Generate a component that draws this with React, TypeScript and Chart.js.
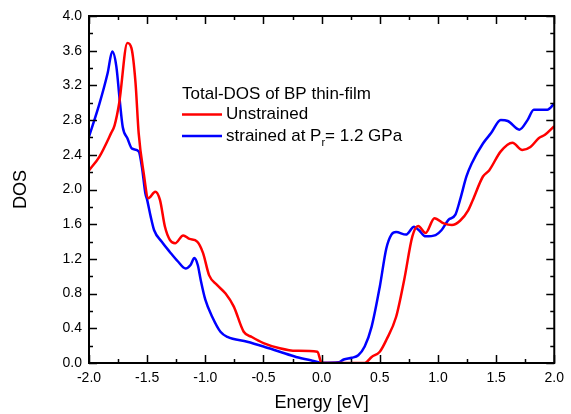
import React, { useEffect, useRef } from "react";
import { Chart, registerables } from "chart.js";

Chart.register(...registerables);

const redX = [-2.0, -1.91, -1.81, -1.78, -1.74, -1.67, -1.635, -1.6, -1.573, -1.53, -1.49, -1.43, -1.39, -1.347, -1.305, -1.26, -1.19, -1.136, -1.07, -1.02, -0.967, -0.9, -0.826, -0.755, -0.67, -0.6, -0.5, -0.36, -0.22, -0.036, 0.0, 0.37, 0.43, 0.5, 0.556, 0.64, 0.71, 0.78, 0.83, 0.894, 0.97, 1.05, 1.12, 1.19, 1.26, 1.3, 1.387, 1.44, 1.54, 1.64, 1.725, 1.795, 1.866, 1.92, 2.0];
const redY = [2.22, 2.38, 2.65, 2.74, 3.0, 3.69, 3.63, 3.23, 2.65, 2.19, 1.9, 1.975, 1.88, 1.57, 1.42, 1.38, 1.47, 1.43, 1.4, 1.27, 1.01, 0.9, 0.8, 0.65, 0.36, 0.3, 0.23, 0.17, 0.14, 0.13, 0.0, 0.0, 0.07, 0.13, 0.265, 0.53, 0.96, 1.46, 1.58, 1.5, 1.67, 1.61, 1.59, 1.64, 1.76, 1.88, 2.15, 2.22, 2.44, 2.54, 2.455, 2.49, 2.59, 2.63, 2.73];

const blueX = [-2.0, -1.91, -1.84, -1.8, -1.765, -1.736, -1.71, -1.67, -1.63, -1.573, -1.545, -1.516, -1.5, -1.47, -1.44, -1.376, -1.305, -1.235, -1.17, -1.127, -1.094, -1.065, -1.04, -1.0, -0.94, -0.87, -0.81, -0.64, -0.5, -0.36, -0.22, -0.08, 0.006, 0.146, 0.19, 0.26, 0.315, 0.37, 0.43, 0.5, 0.556, 0.6, 0.64, 0.725, 0.795, 0.837, 0.894, 0.98, 1.03, 1.09, 1.15, 1.19, 1.245, 1.29, 1.387, 1.457, 1.54, 1.6, 1.7, 1.77, 1.824, 1.94, 2.0];
const blueY = [2.61, 2.99, 3.34, 3.59, 3.42, 3.03, 2.72, 2.59, 2.47, 2.44, 2.26, 1.96, 1.88, 1.69, 1.53, 1.4, 1.28, 1.17, 1.09, 1.13, 1.21, 1.13, 0.96, 0.73, 0.53, 0.36, 0.3, 0.245, 0.19, 0.13, 0.07, 0.027, 0.003, 0.008, 0.04, 0.06, 0.09, 0.19, 0.42, 0.88, 1.32, 1.48, 1.51, 1.48, 1.57, 1.53, 1.46, 1.475, 1.53, 1.65, 1.71, 1.88, 2.15, 2.3, 2.53, 2.65, 2.8, 2.79, 2.69, 2.8, 2.92, 2.92, 2.99];

const legendTitle = "Total-DOS of BP thin-film";
const seriesNames = ["Unstrained", "strained at P", "r", "= 1.2 GPa"];
const xTitle = "Energy [eV]";
const yTitle = "DOS";

const FONT = "'Liberation Sans', Arial, sans-serif";

const frameTicks = {
  id: "frameTicks",
  afterDraw(chart: any) {
    const { ctx, chartArea: a, scales } = chart;
    const xs = scales.x;
    const ys = scales.y;
    ctx.save();
    ctx.strokeStyle = "#000";
    ctx.lineWidth = 1.5;
    for (let i = 0; i <= 16; i++) {
      const v = -2 + i * 0.25;
      const px = Math.round(xs.getPixelForValue(v)) + 0.5;
      const len = i % 2 === 0 ? 8 : 4;
      ctx.beginPath();
      ctx.moveTo(px, a.bottom);
      ctx.lineTo(px, a.bottom - len);
      ctx.moveTo(px, a.top);
      ctx.lineTo(px, a.top + len);
      ctx.stroke();
    }
    for (let i = 0; i <= 20; i++) {
      const v = i * 0.2;
      const py = Math.round(ys.getPixelForValue(v)) + 0.5;
      const len = i % 2 === 0 ? 8 : 4;
      ctx.beginPath();
      ctx.moveTo(a.left, py);
      ctx.lineTo(a.left + len, py);
      ctx.moveTo(a.right, py);
      ctx.lineTo(a.right - len, py);
      ctx.stroke();
    }
    ctx.lineWidth = 2;
    ctx.strokeRect(a.left, a.top, a.right - a.left, a.bottom - a.top);

    // legend
    const lx = a.left + 93;
    ctx.fillStyle = "#000";
    ctx.textBaseline = "middle";
    ctx.textAlign = "left";
    ctx.font = `17px ${FONT}`;
    ctx.fillText(legendTitle, lx, a.top + 78);
    const rows = [
      { color: "#ff0000", y: a.top + 98.5 },
      { color: "#0000ff", y: a.top + 120 },
    ];
    rows.forEach((r) => {
      ctx.strokeStyle = r.color;
      ctx.lineWidth = 2.5;
      ctx.beginPath();
      ctx.moveTo(lx, r.y);
      ctx.lineTo(lx + 40, r.y);
      ctx.stroke();
    });
    const tx = lx + 44;
    ctx.fillStyle = "#000";
    ctx.font = `17px ${FONT}`;
    ctx.fillText(seriesNames[0], tx, rows[0].y);
    ctx.fillText(seriesNames[1], tx, rows[1].y);
    const w = ctx.measureText(seriesNames[1]).width;
    ctx.font = `11px ${FONT}`;
    ctx.fillText(seriesNames[2], tx + w, rows[1].y + 7);
    const w2 = ctx.measureText(seriesNames[2]).width;
    ctx.font = `17px ${FONT}`;
    ctx.fillText(seriesNames[3], tx + w + w2, rows[1].y);
    ctx.restore();
  },
};

export default function App() {
  const ref = useRef<HTMLCanvasElement>(null);
  useEffect(() => {
    document.body.style.margin = "0";
    const canvas = ref.current!;
    const chart = new Chart(canvas, {
      type: "line",
      data: {
        datasets: [
          {
            label: "Unstrained",
            data: redX.map((x, i) => ({ x, y: redY[i] })),
            borderColor: "#ff0000",
            borderWidth: 2.5,
            pointRadius: 0,
            cubicInterpolationMode: "monotone",
            fill: false,
          },
          {
            label: "strained",
            data: blueX.map((x, i) => ({ x, y: blueY[i] })),
            borderColor: "#0000ff",
            borderWidth: 2.5,
            pointRadius: 0,
            cubicInterpolationMode: "monotone",
            fill: false,
          },
        ],
      },
      options: {
        animation: false,
        responsive: false,
        devicePixelRatio: 1,
        layout: { padding: { top: 16, right: 8, left: 0, bottom: 0 } },
        plugins: { legend: { display: false }, tooltip: { enabled: false } },
        scales: {
          x: {
            type: "linear",
            min: -2,
            max: 2,
            grid: { display: false, drawTicks: false },
            border: { display: false },
            ticks: {
              stepSize: 0.5,
              padding: 7,
              color: "#000",
              font: { family: FONT, size: 14 },
              callback: (v: any) => Number(v).toFixed(1),
            },
            title: {
              display: true,
              text: xTitle,
              color: "#000",
              font: { family: FONT, size: 18 },
              padding: { top: 0, bottom: 0 },
            },
            afterFit: (s: any) => {
              s.height = 51;
            },
          },
          y: {
            type: "linear",
            min: 0,
            max: 4,
            grid: { display: false, drawTicks: false },
            border: { display: false },
            ticks: {
              stepSize: 0.4,
              padding: 7,
              color: "#000",
              font: { family: FONT, size: 14 },
              callback: (v: any) => Number(v).toFixed(1),
            },
            title: {
              display: true,
              text: yTitle,
              color: "#000",
              font: { family: FONT, size: 18 },
              padding: { top: 10, bottom: 0 },
            },
            afterFit: (s: any) => {
              s.width = 89;
            },
          },
        },
      },
      plugins: [frameTicks],
    } as any);
    return () => chart.destroy();
  }, []);
  return <canvas ref={ref} width={571} height={414} style={{ display: "block" }} />;
}
